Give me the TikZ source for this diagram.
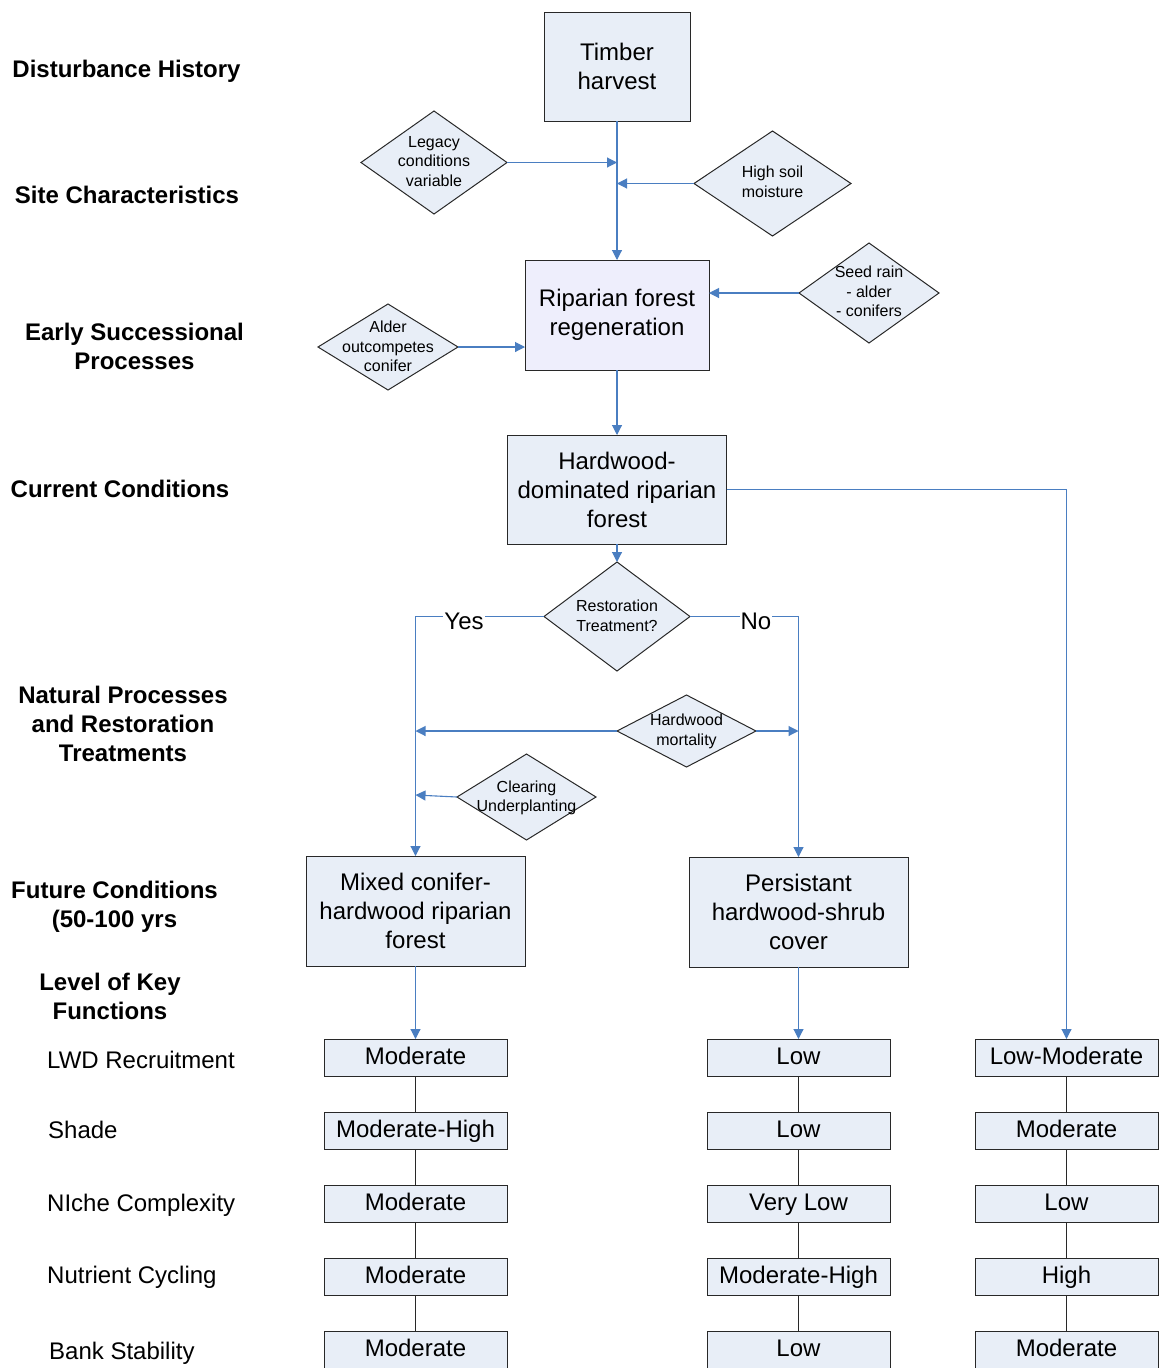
\documentclass[tikz,border=0pt]{standalone}
\usepackage{fontspec}
\setmainfont{Liberation Sans}
\usetikzlibrary{shapes.geometric,arrows.meta,calc}
\definecolor{fillb}{RGB}{232,238,247}
\definecolor{fillp}{RGB}{238,238,252}
\definecolor{lineb}{RGB}{74,126,193}
\definecolor{edge}{RGB}{40,40,40}
\begin{document}
\begin{tikzpicture}[x=1pt,y=-1pt,
 box/.style={draw=edge, line width=1pt, fill=fillb, inner sep=0pt, outer sep=0pt, align=center, font=\fontsize{24}{29}\selectfont},
 dia/.style={diamond, draw=edge, line width=1pt, fill=fillb, inner sep=0pt, outer sep=0pt},
 dtext/.style={align=center, inner sep=0pt, font=\fontsize{16}{19.5}\selectfont},
 val/.style={draw=edge, line width=1pt, fill=fillb, inner sep=0pt, outer sep=0pt, minimum width=183pt, minimum height=37pt, text height=18pt, text depth=4pt, font=\fontsize{24}{29}\selectfont},
 head/.style={align=center, inner sep=0pt, font=\fontsize{24}{29}\selectfont\bfseries},
 fn/.style={anchor=west, inner sep=0pt, font=\fontsize{24}{29}\selectfont},
 flow/.style={draw=lineb, line width=1.1pt, -{Triangle[length=10pt,width=10pt]}},
 chain/.style={draw=edge, line width=0.8pt},
 yn/.style={fill=white, inner sep=1pt, font=\fontsize{24}{29}\selectfont}
]
\useasboundingbox (0,0) rectangle (1159,1368);

% left headings
\node[head] (h1) at (126.5,71.5) {Disturbance History};
\node[head] (h2) at (127,195) {Site Characteristics};
\node[head] (h3) at (134.5,346.5) {Early Successional\\Processes};
\node[head] (h4) at (120,489) {Current Conditions};
\node[head] (h5) at (123,723.5) {Natural Processes\\and Restoration\\Treatments};
\node[head] (h6) at (114.5,907) {Future Conditions\\(50-100 yrs};
\node[head] (h7) at (110,996) {Level of Key\\Functions};
\node[fn] (f1) at (47,1060) {LWD Recruitment};
\node[fn] (f2) at (48,1130) {Shade};
\node[fn] (f3) at (47,1205.5) {NIche Complexity};
\node[fn] (f4) at (47,1277.5) {Nutrient Cycling};
\node[fn] (f5) at (49,1353.5) {Bank Stability};

% main boxes
\node[box, minimum width=146pt, minimum height=109pt] (tim) at (617,66.5) {Timber\\harvest};
\node[box, fill=fillp, minimum width=184pt, minimum height=110pt] (rip) at (617,315) {Riparian forest\\regeneration};
\node[box, minimum width=219pt, minimum height=109pt] (hw) at (617,489.5) {Hardwood-\\dominated riparian\\forest};
\node[box, minimum width=219pt, minimum height=110pt] (mix) at (415.5,911) {Mixed conifer-\\hardwood riparian\\forest};
\node[box, minimum width=219pt, minimum height=110pt] (pers) at (798.5,912) {Persistant\\hardwood-shrub\\cover};

% diamonds
\node[dia, minimum width=146pt, minimum height=103pt] (leg) at (434,162.5) {};
\node[dtext] (legt) at (434,161.5) {Legacy\\conditions\\variable};
\node[dia, minimum width=157pt, minimum height=105pt] (hs) at (772.5,183.5) {};
\node[dtext] (hst) at (772.5,182) {High soil\\moisture};
\node[dia, minimum width=140pt, minimum height=100pt] (seed) at (869,293) {};
\node[dtext] (seedt) at (869,291.5) {Seed rain\\- alder\\- conifers};
\node[dia, minimum width=140pt, minimum height=86pt] (ald) at (388,347) {};
\node[dtext] (aldt) at (388,346.5) {Alder\\outcompetes\\conifer};
\node[dia, minimum width=146pt, minimum height=109pt] (rest) at (617,616.5) {};
\node[dtext] (restt) at (617,616) {Restoration\\Treatment?};
\node[dia, minimum width=139pt, minimum height=72pt] (hm) at (686.5,731) {};
\node[dtext] (hmt) at (686.5,731.5) {Hardwood\\mortality};
\node[dia, minimum width=139pt, minimum height=86pt] (cl) at (526.5,797) {};
\node[dtext] (clt) at (526.5,798) {Clearing\\Underplanting};

% value boxes
\node[val] (a1) at (415.5,1057.5) {Moderate};
\node[val] (a2) at (415.5,1130.5) {Moderate-High};
\node[val] (a3) at (415.5,1203.5) {Moderate};
\node[val] (a4) at (415.5,1276.5) {Moderate};
\node[val] (a5) at (415.5,1349.5) {Moderate};
\node[val] (b1) at (798.5,1057.5) {Low};
\node[val] (b2) at (798.5,1130.5) {Low};
\node[val] (b3) at (798.5,1203.5) {Very Low};
\node[val] (b4) at (798.5,1276.5) {Moderate-High};
\node[val] (b5) at (798.5,1349.5) {Low};
\node[val] (c1) at (1066.5,1057.5) {Low-Moderate};
\node[val] (c2) at (1066.5,1130.5) {Moderate};
\node[val] (c3) at (1066.5,1203.5) {Low};
\node[val] (c4) at (1066.5,1276.5) {High};
\node[val] (c5) at (1066.5,1349.5) {Moderate};

% chains
\foreach \c in {a,b,c}{
  \draw[chain] (\c1) -- (\c2);
  \draw[chain] (\c2) -- (\c3);
  \draw[chain] (\c3) -- (\c4);
  \draw[chain] (\c4) -- (\c5);
}

% flow connectors
\draw[flow] (tim.south) -- (rip.north);
\draw[flow] (leg.east) -- (tim.south |- leg.east);
\draw[flow] (hs.west) -- (tim.south |- hs.west);
\draw[flow] (seed.west) -- (rip.east |- seed.west);
\draw[flow] (ald.east) -- (rip.west |- ald.east);
\draw[flow] (rip.south) -- (hw.north);
\draw[flow] (hw.south) -- (rest.north);
\draw[flow] (hw.east) -| (c1.north);
\draw[flow] (rest.west) -| (mix.north);
\draw[flow] (rest.east) -| (pers.north);
\draw[flow] (hm.west) -- (mix.north |- hm.west);
\draw[flow] (hm.east) -- (pers.north |- hm.east);
\draw[flow] (cl.west) -- ($(mix.north |- cl.west)+(0,-2)$);
\draw[flow] (mix.south) -- (a1.north);
\draw[flow] (pers.south) -- (b1.north);

\node[yn] (yes) at (464,621) {Yes};
\node[yn] (no) at (756,621) {No};
\end{tikzpicture}
\end{document}
